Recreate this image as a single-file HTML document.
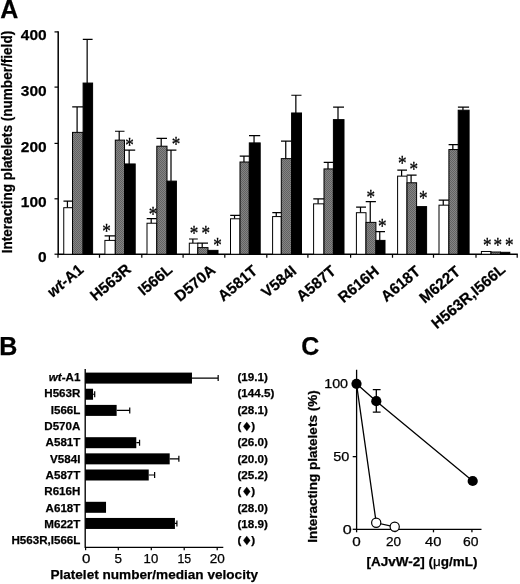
<!DOCTYPE html>
<html><head><meta charset="utf-8"><title>Figure</title>
<style>
html,body{margin:0;padding:0;background:#fff;overflow:hidden;}
svg{display:block;filter:blur(0.3px);}
text{font-family:"Liberation Sans",Arial,sans-serif;fill:#000;}
.b{font-weight:bold;stroke:#000;stroke-width:0.25px;}
.ln{stroke:#000;stroke-width:1.22;fill:none;}
</style></head><body>
<svg width="520" height="584" viewBox="0 0 520 584">
<defs>
<pattern id="ht" width="2" height="2" patternUnits="userSpaceOnUse">
<rect width="2" height="2" fill="#848484"/><rect width="1" height="1" fill="#626262"/><rect x="1" y="1" width="1" height="1" fill="#626262"/>
</pattern>
</defs>
<rect width="520" height="584" fill="#fff"/>

<text class="b" x="0.3" y="18.3" font-size="25">A</text>
<text class="b" transform="translate(11.6,253.3) rotate(-90)" font-size="13.8" textLength="222.5" lengthAdjust="spacingAndGlyphs">Interacting platelets (number/field)</text>
<path class="ln" style="stroke-width:1.5" d="M58.2 31.3V254.25H517.8"/>
<path class="ln" d="M54.5 254.20H58"/>
<text class="b" x="46.7" y="262.2" text-anchor="end" font-size="15.5">0</text>
<path class="ln" d="M54.5 198.80H58"/>
<text class="b" x="46.7" y="207.1" text-anchor="end" font-size="15.5">100</text>
<path class="ln" d="M54.5 143.40H58"/>
<text class="b" x="46.7" y="151.5" text-anchor="end" font-size="15.5">200</text>
<path class="ln" d="M54.5 87.10H58"/>
<text class="b" x="46.7" y="95.7" text-anchor="end" font-size="15.5">300</text>
<path class="ln" d="M54.5 31.90H58"/>
<text class="b" x="46.7" y="40.4" text-anchor="end" font-size="15.5">400</text>
<path class="ln" d="M58.00 254.25V257.75"/>
<path class="ln" d="M99.50 254.25V257.75"/>
<path class="ln" d="M141.80 254.25V257.75"/>
<path class="ln" d="M183.10 254.25V257.75"/>
<path class="ln" d="M224.80 254.25V257.75"/>
<path class="ln" d="M266.80 254.25V257.75"/>
<path class="ln" d="M307.90 254.25V257.75"/>
<path class="ln" d="M350.60 254.25V257.75"/>
<path class="ln" d="M392.50 254.25V257.75"/>
<path class="ln" d="M433.50 254.25V257.75"/>
<path class="ln" d="M476.00 254.25V257.75"/>
<path class="ln" d="M517.20 254.25V257.75"/>
<path class="ln" d="M67.42 207.71V201.07M63.45 201.07H72.50"/>
<rect x="63.75" y="207.71" width="8.75" height="46.54" fill="#fff" stroke="#000" stroke-width="1"/>
<path class="ln" d="M77.10 132.37V106.89M72.20 106.89H83.10"/>
<rect x="72.50" y="132.37" width="10.60" height="121.88" fill="url(#ht)" stroke="#000" stroke-width="1"/>
<path class="ln" d="M87.15 83.06V39.30M82.80 39.30H92.60"/>
<rect x="83.10" y="83.06" width="9.50" height="171.19" fill="#000" stroke="#000" stroke-width="1"/>
<path class="ln" d="M109.40 240.40V235.80M104.60 235.80H115.30"/>
<rect x="104.90" y="240.40" width="10.40" height="13.85" fill="#fff" stroke="#000" stroke-width="1"/>
<path class="ln" d="M119.20 140.13V131.26M115.00 131.26H124.50"/>
<rect x="115.30" y="140.13" width="9.20" height="114.12" fill="url(#ht)" stroke="#000" stroke-width="1"/>
<path class="ln" d="M129.15 163.95V150.10M124.20 150.10H135.20"/>
<rect x="124.50" y="163.95" width="10.70" height="90.30" fill="#000" stroke="#000" stroke-width="1"/>
<path class="ln" d="M151.20 223.23V218.52M146.70 218.52H156.80"/>
<rect x="147.00" y="223.23" width="9.80" height="31.02" fill="#fff" stroke="#000" stroke-width="1"/>
<path class="ln" d="M161.20 146.22V138.46M156.50 138.46H167.00"/>
<rect x="156.80" y="146.22" width="10.20" height="108.03" fill="url(#ht)" stroke="#000" stroke-width="1"/>
<path class="ln" d="M171.00 181.12V150.10M166.70 150.10H176.40"/>
<rect x="167.00" y="181.12" width="9.40" height="73.13" fill="#000" stroke="#000" stroke-width="1"/>
<path class="ln" d="M192.85 243.17V239.01M189.00 239.01H197.80"/>
<rect x="189.30" y="243.17" width="8.50" height="11.08" fill="#fff" stroke="#000" stroke-width="1"/>
<path class="ln" d="M202.20 247.60V243.17M197.50 243.17H208.00"/>
<rect x="197.80" y="247.60" width="10.20" height="6.65" fill="url(#ht)" stroke="#000" stroke-width="1"/>
<rect x="208.00" y="250.37" width="10.00" height="3.88" fill="#000" stroke="#000" stroke-width="1"/>
<path class="ln" d="M234.55 218.79V215.47M230.20 215.47H240.00"/>
<rect x="230.50" y="218.79" width="9.50" height="35.46" fill="#fff" stroke="#000" stroke-width="1"/>
<path class="ln" d="M243.95 162.01V156.19M239.70 156.19H249.30"/>
<rect x="240.00" y="162.01" width="9.30" height="92.24" fill="url(#ht)" stroke="#000" stroke-width="1"/>
<path class="ln" d="M254.05 142.90V135.69M249.00 135.69H260.20"/>
<rect x="249.30" y="142.90" width="10.90" height="111.35" fill="#000" stroke="#000" stroke-width="1"/>
<path class="ln" d="M276.25 216.58V212.70M272.30 212.70H281.30"/>
<rect x="272.60" y="216.58" width="8.70" height="37.67" fill="#fff" stroke="#000" stroke-width="1"/>
<path class="ln" d="M285.75 158.63V141.23M281.00 141.23H291.60"/>
<rect x="281.30" y="158.63" width="10.30" height="95.62" fill="url(#ht)" stroke="#000" stroke-width="1"/>
<path class="ln" d="M295.85 112.98V95.25M291.30 95.25H301.50"/>
<rect x="291.60" y="112.98" width="9.90" height="141.27" fill="#000" stroke="#000" stroke-width="1"/>
<path class="ln" d="M318.10 203.84V198.85M313.30 198.85H324.00"/>
<rect x="313.60" y="203.84" width="10.40" height="50.41" fill="#fff" stroke="#000" stroke-width="1"/>
<path class="ln" d="M328.00 168.93V162.29M323.70 162.29H333.40"/>
<rect x="324.00" y="168.93" width="9.40" height="85.32" fill="url(#ht)" stroke="#000" stroke-width="1"/>
<path class="ln" d="M338.00 119.63V107.11M333.10 107.11H344.00"/>
<rect x="333.40" y="119.63" width="10.60" height="134.62" fill="#000" stroke="#000" stroke-width="1"/>
<path class="ln" d="M360.50 212.70V207.16M356.10 207.16H366.00"/>
<rect x="356.40" y="212.70" width="9.60" height="41.55" fill="#fff" stroke="#000" stroke-width="1"/>
<path class="ln" d="M370.25 222.39V201.62M365.70 201.62H375.90"/>
<rect x="366.00" y="222.39" width="9.90" height="31.86" fill="url(#ht)" stroke="#000" stroke-width="1"/>
<path class="ln" d="M379.75 240.40V231.54M375.60 231.54H385.00"/>
<rect x="375.90" y="240.40" width="9.10" height="13.85" fill="#000" stroke="#000" stroke-width="1"/>
<path class="ln" d="M401.60 176.14V170.04M397.30 170.04H407.00"/>
<rect x="397.60" y="176.14" width="9.40" height="78.11" fill="#fff" stroke="#000" stroke-width="1"/>
<path class="ln" d="M411.10 182.78V175.03M406.70 175.03H416.60"/>
<rect x="407.00" y="182.78" width="9.60" height="71.47" fill="url(#ht)" stroke="#000" stroke-width="1"/>
<rect x="416.60" y="206.61" width="10.00" height="47.64" fill="#000" stroke="#000" stroke-width="1"/>
<path class="ln" d="M443.25 205.17V200.23M438.70 200.23H448.90"/>
<rect x="439.00" y="205.17" width="9.90" height="49.08" fill="#fff" stroke="#000" stroke-width="1"/>
<path class="ln" d="M452.85 149.54V144.56M448.60 144.56H458.20"/>
<rect x="448.90" y="149.54" width="9.30" height="104.71" fill="url(#ht)" stroke="#000" stroke-width="1"/>
<path class="ln" d="M462.95 110.21V107.11M457.90 107.11H469.10"/>
<rect x="458.20" y="110.21" width="10.90" height="144.04" fill="#000" stroke="#000" stroke-width="1"/>
<rect x="481.40" y="251.48" width="9.60" height="2.77" fill="#fff" stroke="#000" stroke-width="1"/>
<rect x="491.00" y="252.03" width="9.50" height="2.22" fill="url(#ht)" stroke="#000" stroke-width="1"/>
<rect x="500.50" y="252.31" width="9.30" height="1.94" fill="#000" stroke="#000" stroke-width="1"/>
<text transform="translate(129.5,151.8) scale(0.88,1.03)" text-anchor="middle" font-size="19.5" stroke="#000" stroke-width="0.3" font-family="Liberation Serif, serif" style="font-family:'Liberation Serif',serif">*</text>
<text transform="translate(176.0,151.3) scale(0.88,1.03)" text-anchor="middle" font-size="19.5" stroke="#000" stroke-width="0.3" font-family="Liberation Serif, serif" style="font-family:'Liberation Serif',serif">*</text>
<text transform="translate(153.0,221.3) scale(0.88,1.03)" text-anchor="middle" font-size="19.5" stroke="#000" stroke-width="0.3" font-family="Liberation Serif, serif" style="font-family:'Liberation Serif',serif">*</text>
<text transform="translate(194.0,240.3) scale(0.88,1.03)" text-anchor="middle" font-size="19.5" stroke="#000" stroke-width="0.3" font-family="Liberation Serif, serif" style="font-family:'Liberation Serif',serif">*</text>
<text transform="translate(205.8,240.3) scale(0.88,1.03)" text-anchor="middle" font-size="19.5" stroke="#000" stroke-width="0.3" font-family="Liberation Serif, serif" style="font-family:'Liberation Serif',serif">*</text>
<text transform="translate(217.5,252.3) scale(0.88,1.03)" text-anchor="middle" font-size="19.5" stroke="#000" stroke-width="0.3" font-family="Liberation Serif, serif" style="font-family:'Liberation Serif',serif">*</text>
<text transform="translate(370.7,204.0) scale(0.88,1.03)" text-anchor="middle" font-size="19.5" stroke="#000" stroke-width="0.3" font-family="Liberation Serif, serif" style="font-family:'Liberation Serif',serif">*</text>
<text transform="translate(382.4,232.9) scale(0.88,1.03)" text-anchor="middle" font-size="19.5" stroke="#000" stroke-width="0.3" font-family="Liberation Serif, serif" style="font-family:'Liberation Serif',serif">*</text>
<text transform="translate(402.2,170.1) scale(0.88,1.03)" text-anchor="middle" font-size="19.5" stroke="#000" stroke-width="0.3" font-family="Liberation Serif, serif" style="font-family:'Liberation Serif',serif">*</text>
<text transform="translate(413.9,175.6) scale(0.88,1.03)" text-anchor="middle" font-size="19.5" stroke="#000" stroke-width="0.3" font-family="Liberation Serif, serif" style="font-family:'Liberation Serif',serif">*</text>
<text transform="translate(423.2,205.2) scale(0.88,1.03)" text-anchor="middle" font-size="19.5" stroke="#000" stroke-width="0.3" font-family="Liberation Serif, serif" style="font-family:'Liberation Serif',serif">*</text>
<text transform="translate(487.4,251.7) scale(0.88,1.03)" text-anchor="middle" font-size="19.5" stroke="#000" stroke-width="0.3" font-family="Liberation Serif, serif" style="font-family:'Liberation Serif',serif">*</text>
<text transform="translate(497.9,251.7) scale(0.88,1.03)" text-anchor="middle" font-size="19.5" stroke="#000" stroke-width="0.3" font-family="Liberation Serif, serif" style="font-family:'Liberation Serif',serif">*</text>
<text transform="translate(509.2,251.7) scale(0.88,1.03)" text-anchor="middle" font-size="19.5" stroke="#000" stroke-width="0.3" font-family="Liberation Serif, serif" style="font-family:'Liberation Serif',serif">*</text>
<text transform="translate(106.6,238.0) scale(0.88,1.03)" text-anchor="middle" font-size="19.5" stroke="#000" stroke-width="0.3" font-family="Liberation Serif, serif" style="font-family:'Liberation Serif',serif">*</text>
<text class="b" transform="translate(84.4,271.2) rotate(-40)" text-anchor="end" font-size="15.3"><tspan font-style="italic">wt</tspan>-A1</text>
<text class="b" transform="translate(131.9,271.0) rotate(-40)" text-anchor="end" font-size="15.3">H563R</text>
<text class="b" transform="translate(173.5,271.2) rotate(-40)" text-anchor="end" font-size="15.3">I566L</text>
<text class="b" transform="translate(216.5,271.6) rotate(-40)" text-anchor="end" font-size="15.3">D570A</text>
<text class="b" transform="translate(258.5,272.6) rotate(-40)" text-anchor="end" font-size="15.3">A581T</text>
<text class="b" transform="translate(297.5,272.5) rotate(-40)" text-anchor="end" font-size="15.3">V584I</text>
<text class="b" transform="translate(337.0,272.8) rotate(-40)" text-anchor="end" font-size="15.3">A587T</text>
<text class="b" transform="translate(379.9,272.8) rotate(-40)" text-anchor="end" font-size="15.3">R616H</text>
<text class="b" transform="translate(421.5,272.9) rotate(-40)" text-anchor="end" font-size="15.3">A618T</text>
<text class="b" transform="translate(461.3,273.3) rotate(-40)" text-anchor="end" font-size="15.3">M622T</text>
<text class="b" transform="translate(506.5,271.0) rotate(-40)" text-anchor="end" font-size="15.3">H563R,I566L</text>
<text class="b" x="-0.8" y="354.7" font-size="25">B</text>
<text class="b" x="80.4" y="381.10" text-anchor="end" font-size="11.6"><tspan font-style="italic">wt</tspan>-A1</text>
<text class="b" x="237.4" y="381.10" font-size="11.7">(19.1)</text>
<path class="ln" d="M191.97 378.10H218.17M218.17 375.10V381.10"/>
<rect x="85.2" y="372.60" width="106.77" height="11" fill="#000"/>
<text class="b" x="80.4" y="397.42" text-anchor="end" font-size="11.6">H563R</text>
<text class="b" x="237.4" y="397.42" font-size="11.7">(144.5)</text>
<path class="ln" d="M93.06 394.25H94.70M94.70 391.25V397.25"/>
<rect x="85.2" y="388.75" width="7.86" height="11" fill="#000"/>
<text class="b" x="80.4" y="413.74" text-anchor="end" font-size="11.6">I566L</text>
<text class="b" x="237.4" y="413.74" font-size="11.7">(28.1)</text>
<path class="ln" d="M116.64 410.40H129.74M129.74 407.40V413.40"/>
<rect x="85.2" y="404.90" width="31.44" height="11" fill="#000"/>
<text class="b" x="80.4" y="430.06" text-anchor="end" font-size="11.6">D570A</text>
<text class="b" y="430.06" font-size="11.7"><tspan x="237.4">(</tspan><tspan x="246.7" dy="0.7" text-anchor="middle" font-size="12.4" style="font-family:'DejaVu Sans','Liberation Sans',sans-serif">♦</tspan><tspan x="251.3" dy="-0.7">)</tspan></text>
<text class="b" x="80.4" y="446.38" text-anchor="end" font-size="11.6">A581T</text>
<text class="b" x="237.4" y="446.38" font-size="11.7">(26.0)</text>
<path class="ln" d="M136.29 442.70H139.56M139.56 439.70V445.70"/>
<rect x="85.2" y="437.20" width="51.09" height="11" fill="#000"/>
<text class="b" x="80.4" y="462.70" text-anchor="end" font-size="11.6">V584I</text>
<text class="b" x="237.4" y="462.70" font-size="11.7">(20.0)</text>
<path class="ln" d="M169.69 458.85H178.87M178.87 455.85V461.85"/>
<rect x="85.2" y="453.35" width="84.50" height="11" fill="#000"/>
<text class="b" x="80.4" y="479.02" text-anchor="end" font-size="11.6">A587T</text>
<text class="b" x="237.4" y="479.02" font-size="11.7">(25.2)</text>
<path class="ln" d="M148.74 475.00H154.63M154.63 472.00V478.00"/>
<rect x="85.2" y="469.50" width="63.53" height="11" fill="#000"/>
<text class="b" x="80.4" y="495.34" text-anchor="end" font-size="11.6">R616H</text>
<text class="b" y="495.34" font-size="11.7"><tspan x="237.4">(</tspan><tspan x="246.7" dy="0.7" text-anchor="middle" font-size="12.4" style="font-family:'DejaVu Sans','Liberation Sans',sans-serif">♦</tspan><tspan x="251.3" dy="-0.7">)</tspan></text>
<text class="b" x="80.4" y="511.66" text-anchor="end" font-size="11.6">A618T</text>
<text class="b" x="237.4" y="511.66" font-size="11.7">(28.0)</text>
<rect x="85.2" y="501.80" width="20.83" height="11" fill="#000"/>
<text class="b" x="80.4" y="527.98" text-anchor="end" font-size="11.6">M622T</text>
<text class="b" x="237.4" y="527.98" font-size="11.7">(18.9)</text>
<path class="ln" d="M174.94 523.45H176.90M176.90 520.45V526.45"/>
<rect x="85.2" y="517.95" width="89.73" height="11" fill="#000"/>
<text class="b" x="80.4" y="544.30" text-anchor="end" font-size="11.6">H563R,I566L</text>
<text class="b" y="544.30" font-size="11.7"><tspan x="237.4">(</tspan><tspan x="246.7" dy="0.7" text-anchor="middle" font-size="12.4" style="font-family:'DejaVu Sans','Liberation Sans',sans-serif">♦</tspan><tspan x="251.3" dy="-0.7">)</tspan></text>
<path class="ln" style="stroke-width:1.35" d="M85.2 369V547.3H223.3"/>
<path class="ln" d="M85.60 547.3V550.2"/>
<text x="82.10" y="562.8" font-size="12.4" textLength="8.40" lengthAdjust="spacingAndGlyphs" stroke="#000" stroke-width="0.25">0</text>
<path class="ln" d="M118.30 547.3V550.2"/>
<text x="114.40" y="562.8" font-size="12.4" textLength="7.50" lengthAdjust="spacingAndGlyphs" stroke="#000" stroke-width="0.25">5</text>
<path class="ln" d="M151.30 547.3V550.2"/>
<text x="143.60" y="562.8" font-size="12.4" textLength="14.60" lengthAdjust="spacingAndGlyphs" stroke="#000" stroke-width="0.25">10</text>
<path class="ln" d="M184.20 547.3V550.2"/>
<text x="177.40" y="562.8" font-size="12.4" textLength="13.70" lengthAdjust="spacingAndGlyphs" stroke="#000" stroke-width="0.25">15</text>
<path class="ln" d="M217.20 547.3V550.2"/>
<text x="209.80" y="562.8" font-size="12.4" textLength="15.10" lengthAdjust="spacingAndGlyphs" stroke="#000" stroke-width="0.25">20</text>
<text class="b" x="50.4" y="579.2" font-size="13.6" textLength="207.6" lengthAdjust="spacingAndGlyphs">Platelet number/median velocity</text>
<text class="b" x="301.3" y="354.7" font-size="25">C</text>
<g style="stroke-width:1.3">
<path class="ln" style="stroke-width:1.3" d="M356.6 369.7V529.3H481.5"/>
<path class="ln" style="stroke-width:1.3" d="M352.70000000000005 384.00H356.6"/>
<text x="324.20" y="387.60" font-size="12.4" textLength="23.90" lengthAdjust="spacingAndGlyphs" stroke="#000" stroke-width="0.25">100</text>
<path class="ln" style="stroke-width:1.3" d="M352.70000000000005 456.65H356.6"/>
<text x="333.20" y="461.00" font-size="12.4" textLength="16.10" lengthAdjust="spacingAndGlyphs" stroke="#000" stroke-width="0.25">50</text>
<path class="ln" style="stroke-width:1.3" d="M352.70000000000005 529.30H356.6"/>
<text x="342.80" y="533.80" font-size="12.4" textLength="9.00" lengthAdjust="spacingAndGlyphs" stroke="#000" stroke-width="0.25">0</text>
<path class="ln" style="stroke-width:1.3" d="M356.60 529.3V532.3"/>
<text x="352.30" y="546.4" font-size="12.4" textLength="8.50" lengthAdjust="spacingAndGlyphs" stroke="#000" stroke-width="0.25">0</text>
<path class="ln" style="stroke-width:1.3" d="M395.04 529.3V532.3"/>
<text x="386.00" y="546.4" font-size="12.4" textLength="15.10" lengthAdjust="spacingAndGlyphs" stroke="#000" stroke-width="0.25">20</text>
<path class="ln" style="stroke-width:1.3" d="M433.48 529.3V532.3"/>
<text x="425.00" y="546.4" font-size="12.4" textLength="16.40" lengthAdjust="spacingAndGlyphs" stroke="#000" stroke-width="0.25">40</text>
<path class="ln" style="stroke-width:1.3" d="M471.92 529.3V532.3"/>
<text x="463.10" y="546.4" font-size="12.4" textLength="15.50" lengthAdjust="spacingAndGlyphs" stroke="#000" stroke-width="0.25">60</text>
<text class="b" transform="translate(316.9,542.8) rotate(-90)" font-size="13.1" textLength="152.5" lengthAdjust="spacingAndGlyphs">Interacting platelets (%)</text>
<text class="b" x="366.6" y="565.6" font-size="13.2" textLength="111" lengthAdjust="spacingAndGlyphs">[AJvW-2] (<tspan font-weight="normal">μ</tspan>g/mL)</text>
<path class="ln" style="stroke-width:1.3" d="M356.5 383.8L376.3 401.2L472.7 481"/>
<path class="ln" style="stroke-width:1.3" d="M356.5 383.8L376.2 522.8L394.7 526.8"/>
<path class="ln" style="stroke-width:1.3" d="M376.3 389.6V412.1M372.8 389.6H380.6M372.8 412.1H380.6"/>
<circle cx="356.50" cy="383.80" r="5.1" fill="#000"/>
<circle cx="376.30" cy="401.20" r="5.1" fill="#000"/>
<circle cx="472.70" cy="481.00" r="5.1" fill="#000"/>
<circle cx="376.20" cy="522.80" r="4.6" fill="#fff" stroke="#000" stroke-width="1.2"/>
<circle cx="394.70" cy="526.80" r="4.6" fill="#fff" stroke="#000" stroke-width="1.2"/>
</g>
</svg></body></html>
